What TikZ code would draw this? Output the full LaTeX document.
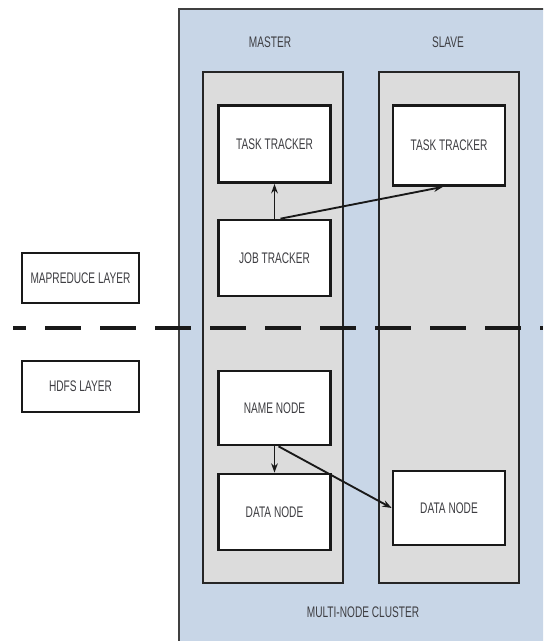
\documentclass[tikz,border=0pt]{standalone}
\usepackage{fontspec}
\setmainfont[FakeStretch=0.66]{Liberation Sans}
\usetikzlibrary{arrows.meta}
\definecolor{clusterblue}{RGB}{200,214,231}
\definecolor{colgrey}{RGB}{220,220,220}
\definecolor{labelgrey}{RGB}{62,62,66}
\tikzset{
  unitbox/.style={draw=black!90, line width=2pt, fill=white, font=\fontsize{11.5}{13}\selectfont, text=labelgrey},
  column/.style={draw=black!85, line width=0.9pt, fill=colgrey},
  caption/.style={font=\fontsize{11.5}{13}\selectfont, text=labelgrey},
  link/.style={-{Stealth[length=7pt,width=5pt]}, line width=1.4pt, black!90}
}
\begin{document}
\begin{tikzpicture}[x=0.75pt,y=-0.75pt]
\useasboundingbox (0,0) rectangle (543,641);
\clip (0,0) rectangle (543,641);
% cluster background
\draw[fill=clusterblue, draw=black!75, line width=1.2pt] (179,9) rectangle (560,660);
% master and slave columns
\draw[column] (203,72) rectangle (343,583);
\draw[column] (379,72) rectangle (519,583);
\node[caption] (master) at (270,42) {MASTER};
\node[caption] (slave) at (448,42) {SLAVE};
\node[caption] (cluster) at (363,612) {MULTI-NODE CLUSTER};
% layer separator
\draw[line width=3pt, black!90, dash pattern=on 26.5pt off 14.75pt, dash phase=17pt] (13,328) -- (543,328);
% layer labels
\node[unitbox, minimum width=87.75pt, minimum height=37.5pt] (mr) at (80.5,278) {MAPREDUCE LAYER};
\node[unitbox, minimum width=87.75pt, minimum height=38.25pt] (hdfs) at (80.5,386.5) {HDFS LAYER};
% master components
\node[unitbox, minimum width=84pt, minimum height=58pt] (tt1) at (274.5,144) {TASK TRACKER};
\node[unitbox, minimum width=84pt, minimum height=57pt] (jt) at (274.5,258) {JOB TRACKER};
\node[unitbox, minimum width=84pt, minimum height=55.5pt] (nn) at (274.5,408) {NAME NODE};
\node[unitbox, minimum width=84pt, minimum height=57pt] (dn1) at (274.5,512) {DATA NODE};
% slave components
\node[unitbox, minimum width=84pt, minimum height=60pt] (tt2) at (449,145.5) {TASK TRACKER};
\node[unitbox, minimum width=84pt, minimum height=55.5pt] (dn2) at (449,508) {DATA NODE};
% connectors
\draw[link] (jt.north) -- (tt1.south);
\draw[link] ([xshift=4.5pt]jt.north) -- ([xshift=-4.5pt]tt2.south);
\draw[link] (nn.south) -- (dn1.north);
\draw[link] ([xshift=3pt]nn.south) -- (dn2.west);
\end{tikzpicture}
\end{document}
